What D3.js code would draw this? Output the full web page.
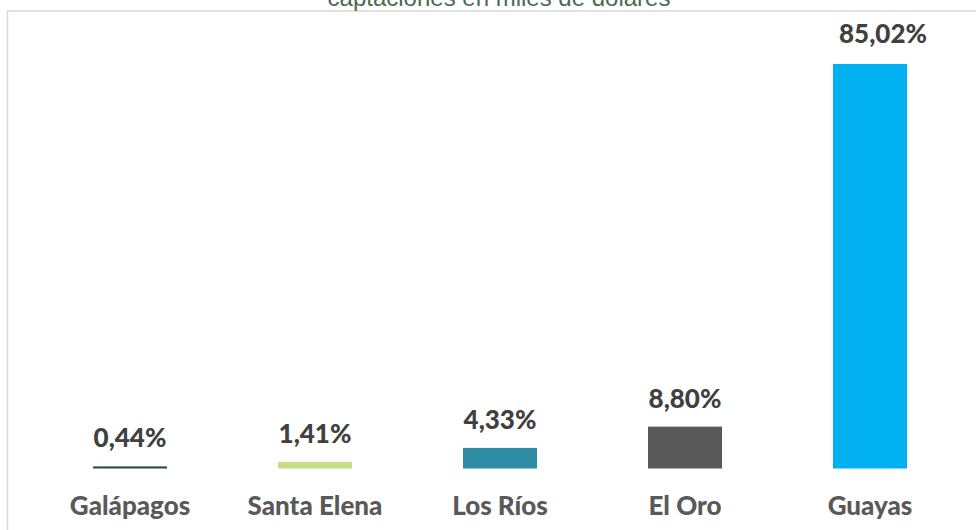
<!DOCTYPE html>
<html><head><meta charset="utf-8">
<script src="https://cdn.jsdelivr.net/npm/d3@7"></script>
<style>body{margin:0;background:#fff}svg{display:block}</style>
</head><body>
<script>
const categories = ["Galápagos","Santa Elena","Los Ríos","El Oro","Guayas"];
const values = [0.44, 1.41, 4.33, 8.80, 85.02];
const colors = ["#2f4a3c","#c3de87","#2e8ca5","#595959","#00b0f0"];
const title = "captaciones en miles de dólares";

const W = 976, H = 530;
const svg = d3.select("body").append("svg").attr("width", W).attr("height", H);

// chart border
svg.append("rect").attr("x", 7.5).attr("y", 11).attr("width", W + 10).attr("height", H + 10)
  .attr("fill", "none").attr("stroke", "#d9d9d9").attr("stroke-width", 1.5);

svg.append("text").attr("x", 499).attr("y", 5.5).attr("text-anchor", "middle")
  .attr("font-family", "Liberation Sans, Arial, sans-serif").attr("font-size", 24)
  .attr("fill", "#4a6a55").text(title);

const x = d3.scaleBand().domain(categories).range([37.5, 962.5]).paddingInner(0.6).paddingOuter(0.3);
const y = d3.scaleLinear().domain([0, 85.02]).range([468.5, 64]);

const g = svg.append("g");
g.selectAll("rect.bar").data(values).join("rect").attr("class", "bar")
  .attr("x", (d, i) => x(categories[i]))
  .attr("width", x.bandwidth())
  .attr("y", d => y(d))
  .attr("height", d => y(0) - y(d))
  .attr("fill", (d, i) => colors[i]);

// the largest bar's label sits slightly to the right in the original
const lastLabelNudge = 13;
const fmt = v => v.toFixed(2).replace(".", ",") + "%";
g.selectAll("text.val").data(values).join("text").attr("class", "val")
  .attr("x", (d, i) => x(categories[i]) + x.bandwidth() / 2 + (i === values.length - 1 ? lastLabelNudge : 0))
  .attr("y", (d, i) => y(d) - (i === values.length - 1 ? 21 : 19))
  .attr("text-anchor", "middle")
  .attr("font-family", "Lato, Open Sans, sans-serif").attr("font-weight", 900)
  .attr("font-size", 26).attr("fill", "#404040")
  .text(d => fmt(d));

const xAxis = d3.axisBottom(x).tickSize(0).tickPadding(0);
const ax = svg.append("g").attr("transform", "translate(0,515)").call(xAxis);
ax.select(".domain").remove();
ax.selectAll("text").attr("font-family", "Lato, Open Sans, sans-serif").attr("font-weight", 900)
  .attr("font-size", 26).attr("fill", "#595959").attr("dy", "0");
</script>
</body></html>
